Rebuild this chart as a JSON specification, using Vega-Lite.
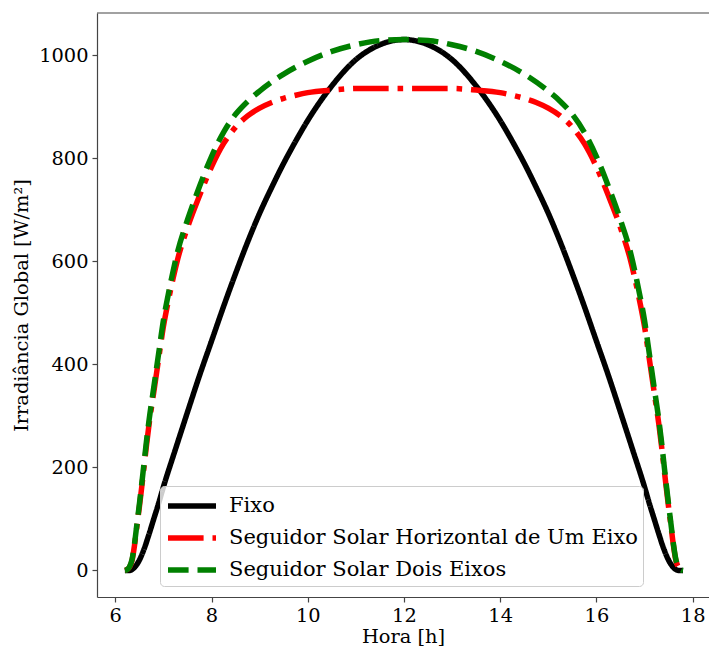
{
  "$schema": "https://vega.github.io/schema/vega-lite/v6.json",
  "width": 612,
  "height": 584,
  "autosize": {"type": "none"},
  "padding": {"left": 97, "top": 13, "right": 0, "bottom": 50},
  "background": "white",
  "data": {"values": [
    {"s":"Fixo","t":6.2,"v":0},{"s":"Fixo","t":6.3,"v":0},{"s":"Fixo","t":6.35,"v":2},{"s":"Fixo","t":6.4,"v":6},{"s":"Fixo","t":6.5,"v":20},{"s":"Fixo","t":6.6,"v":42},{"s":"Fixo","t":6.7,"v":70},{"s":"Fixo","t":6.8,"v":100},{"s":"Fixo","t":6.9,"v":130},{"s":"Fixo","t":7.0,"v":162},{"s":"Fixo","t":7.25,"v":235},{"s":"Fixo","t":7.5,"v":307},{"s":"Fixo","t":7.75,"v":378},{"s":"Fixo","t":8.0,"v":445},{"s":"Fixo","t":8.25,"v":512},{"s":"Fixo","t":8.5,"v":576},{"s":"Fixo","t":8.75,"v":637},{"s":"Fixo","t":9.0,"v":693},{"s":"Fixo","t":9.25,"v":743},{"s":"Fixo","t":9.5,"v":790},{"s":"Fixo","t":9.75,"v":833},{"s":"Fixo","t":10.0,"v":873},{"s":"Fixo","t":10.5,"v":940},{"s":"Fixo","t":11.0,"v":991},{"s":"Fixo","t":11.5,"v":1020},{"s":"Fixo","t":12.0,"v":1030},
    {"s":"Fixo","t":12.5,"v":1020},{"s":"Fixo","t":13.0,"v":991},{"s":"Fixo","t":13.5,"v":940},{"s":"Fixo","t":14.0,"v":873},{"s":"Fixo","t":14.25,"v":833},{"s":"Fixo","t":14.5,"v":790},{"s":"Fixo","t":14.75,"v":743},{"s":"Fixo","t":15.0,"v":693},{"s":"Fixo","t":15.25,"v":637},{"s":"Fixo","t":15.5,"v":576},{"s":"Fixo","t":15.75,"v":512},{"s":"Fixo","t":16.0,"v":445},{"s":"Fixo","t":16.25,"v":378},{"s":"Fixo","t":16.5,"v":307},{"s":"Fixo","t":16.75,"v":235},{"s":"Fixo","t":17.0,"v":162},{"s":"Fixo","t":17.1,"v":130},{"s":"Fixo","t":17.2,"v":100},{"s":"Fixo","t":17.3,"v":70},{"s":"Fixo","t":17.4,"v":42},{"s":"Fixo","t":17.5,"v":20},{"s":"Fixo","t":17.6,"v":6},{"s":"Fixo","t":17.65,"v":2},{"s":"Fixo","t":17.7,"v":0},{"s":"Fixo","t":17.8,"v":0},
    {"s":"Seguidor Solar Horizontal de Um Eixo","t":6.2,"v":0},{"s":"Seguidor Solar Horizontal de Um Eixo","t":6.25,"v":2},{"s":"Seguidor Solar Horizontal de Um Eixo","t":6.3,"v":7},{"s":"Seguidor Solar Horizontal de Um Eixo","t":6.35,"v":20},{"s":"Seguidor Solar Horizontal de Um Eixo","t":6.4,"v":49},{"s":"Seguidor Solar Horizontal de Um Eixo","t":6.45,"v":86},{"s":"Seguidor Solar Horizontal de Um Eixo","t":6.5,"v":123},{"s":"Seguidor Solar Horizontal de Um Eixo","t":6.55,"v":162},{"s":"Seguidor Solar Horizontal de Um Eixo","t":6.6,"v":203},{"s":"Seguidor Solar Horizontal de Um Eixo","t":6.65,"v":244},{"s":"Seguidor Solar Horizontal de Um Eixo","t":6.7,"v":282},{"s":"Seguidor Solar Horizontal de Um Eixo","t":6.8,"v":346},{"s":"Seguidor Solar Horizontal de Um Eixo","t":6.9,"v":410},{"s":"Seguidor Solar Horizontal de Um Eixo","t":7.0,"v":473},{"s":"Seguidor Solar Horizontal de Um Eixo","t":7.1,"v":522},{"s":"Seguidor Solar Horizontal de Um Eixo","t":7.2,"v":566},{"s":"Seguidor Solar Horizontal de Um Eixo","t":7.3,"v":605},{"s":"Seguidor Solar Horizontal de Um Eixo","t":7.5,"v":665},{"s":"Seguidor Solar Horizontal de Um Eixo","t":7.75,"v":727},{"s":"Seguidor Solar Horizontal de Um Eixo","t":8.0,"v":783},{"s":"Seguidor Solar Horizontal de Um Eixo","t":8.25,"v":828},{"s":"Seguidor Solar Horizontal de Um Eixo","t":8.5,"v":860},{"s":"Seguidor Solar Horizontal de Um Eixo","t":8.75,"v":882},{"s":"Seguidor Solar Horizontal de Um Eixo","t":9.0,"v":897},{"s":"Seguidor Solar Horizontal de Um Eixo","t":9.25,"v":908},{"s":"Seguidor Solar Horizontal de Um Eixo","t":9.5,"v":916},{"s":"Seguidor Solar Horizontal de Um Eixo","t":9.75,"v":922},{"s":"Seguidor Solar Horizontal de Um Eixo","t":10.0,"v":927},{"s":"Seguidor Solar Horizontal de Um Eixo","t":10.5,"v":932},{"s":"Seguidor Solar Horizontal de Um Eixo","t":11.0,"v":935},{"s":"Seguidor Solar Horizontal de Um Eixo","t":11.5,"v":935},{"s":"Seguidor Solar Horizontal de Um Eixo","t":12.0,"v":935},
    {"s":"Seguidor Solar Horizontal de Um Eixo","t":12.5,"v":935},{"s":"Seguidor Solar Horizontal de Um Eixo","t":13.0,"v":935},{"s":"Seguidor Solar Horizontal de Um Eixo","t":13.5,"v":932},{"s":"Seguidor Solar Horizontal de Um Eixo","t":14.0,"v":927},{"s":"Seguidor Solar Horizontal de Um Eixo","t":14.25,"v":922},{"s":"Seguidor Solar Horizontal de Um Eixo","t":14.5,"v":916},{"s":"Seguidor Solar Horizontal de Um Eixo","t":14.75,"v":908},{"s":"Seguidor Solar Horizontal de Um Eixo","t":15.0,"v":897},{"s":"Seguidor Solar Horizontal de Um Eixo","t":15.25,"v":882},{"s":"Seguidor Solar Horizontal de Um Eixo","t":15.5,"v":860},{"s":"Seguidor Solar Horizontal de Um Eixo","t":15.75,"v":828},{"s":"Seguidor Solar Horizontal de Um Eixo","t":16.0,"v":783},{"s":"Seguidor Solar Horizontal de Um Eixo","t":16.25,"v":727},{"s":"Seguidor Solar Horizontal de Um Eixo","t":16.5,"v":665},{"s":"Seguidor Solar Horizontal de Um Eixo","t":16.7,"v":605},{"s":"Seguidor Solar Horizontal de Um Eixo","t":16.8,"v":566},{"s":"Seguidor Solar Horizontal de Um Eixo","t":16.9,"v":522},{"s":"Seguidor Solar Horizontal de Um Eixo","t":17.0,"v":473},{"s":"Seguidor Solar Horizontal de Um Eixo","t":17.1,"v":410},{"s":"Seguidor Solar Horizontal de Um Eixo","t":17.2,"v":346},{"s":"Seguidor Solar Horizontal de Um Eixo","t":17.3,"v":282},{"s":"Seguidor Solar Horizontal de Um Eixo","t":17.35,"v":244},{"s":"Seguidor Solar Horizontal de Um Eixo","t":17.4,"v":203},{"s":"Seguidor Solar Horizontal de Um Eixo","t":17.45,"v":162},{"s":"Seguidor Solar Horizontal de Um Eixo","t":17.5,"v":123},{"s":"Seguidor Solar Horizontal de Um Eixo","t":17.55,"v":86},{"s":"Seguidor Solar Horizontal de Um Eixo","t":17.6,"v":49},{"s":"Seguidor Solar Horizontal de Um Eixo","t":17.65,"v":20},{"s":"Seguidor Solar Horizontal de Um Eixo","t":17.7,"v":7},{"s":"Seguidor Solar Horizontal de Um Eixo","t":17.75,"v":2},{"s":"Seguidor Solar Horizontal de Um Eixo","t":17.8,"v":0},
    {"s":"Seguidor Solar Dois Eixos","t":6.2,"v":0},{"s":"Seguidor Solar Dois Eixos","t":6.25,"v":2},{"s":"Seguidor Solar Dois Eixos","t":6.3,"v":8},{"s":"Seguidor Solar Dois Eixos","t":6.35,"v":22},{"s":"Seguidor Solar Dois Eixos","t":6.4,"v":52},{"s":"Seguidor Solar Dois Eixos","t":6.45,"v":90},{"s":"Seguidor Solar Dois Eixos","t":6.5,"v":128},{"s":"Seguidor Solar Dois Eixos","t":6.55,"v":168},{"s":"Seguidor Solar Dois Eixos","t":6.6,"v":210},{"s":"Seguidor Solar Dois Eixos","t":6.65,"v":252},{"s":"Seguidor Solar Dois Eixos","t":6.7,"v":290},{"s":"Seguidor Solar Dois Eixos","t":6.8,"v":355},{"s":"Seguidor Solar Dois Eixos","t":6.9,"v":420},{"s":"Seguidor Solar Dois Eixos","t":7.0,"v":485},{"s":"Seguidor Solar Dois Eixos","t":7.1,"v":535},{"s":"Seguidor Solar Dois Eixos","t":7.2,"v":580},{"s":"Seguidor Solar Dois Eixos","t":7.3,"v":620},{"s":"Seguidor Solar Dois Eixos","t":7.5,"v":680},{"s":"Seguidor Solar Dois Eixos","t":7.75,"v":745},{"s":"Seguidor Solar Dois Eixos","t":8.0,"v":803},{"s":"Seguidor Solar Dois Eixos","t":8.25,"v":850},{"s":"Seguidor Solar Dois Eixos","t":8.5,"v":885},{"s":"Seguidor Solar Dois Eixos","t":8.75,"v":910},{"s":"Seguidor Solar Dois Eixos","t":9.0,"v":930},{"s":"Seguidor Solar Dois Eixos","t":9.5,"v":963},{"s":"Seguidor Solar Dois Eixos","t":10.0,"v":988},{"s":"Seguidor Solar Dois Eixos","t":10.5,"v":1007},{"s":"Seguidor Solar Dois Eixos","t":11.0,"v":1020},{"s":"Seguidor Solar Dois Eixos","t":11.5,"v":1028},{"s":"Seguidor Solar Dois Eixos","t":12.0,"v":1030},
    {"s":"Seguidor Solar Dois Eixos","t":12.5,"v":1028},{"s":"Seguidor Solar Dois Eixos","t":13.0,"v":1020},{"s":"Seguidor Solar Dois Eixos","t":13.5,"v":1007},{"s":"Seguidor Solar Dois Eixos","t":14.0,"v":988},{"s":"Seguidor Solar Dois Eixos","t":14.5,"v":963},{"s":"Seguidor Solar Dois Eixos","t":15.0,"v":930},{"s":"Seguidor Solar Dois Eixos","t":15.25,"v":910},{"s":"Seguidor Solar Dois Eixos","t":15.5,"v":885},{"s":"Seguidor Solar Dois Eixos","t":15.75,"v":850},{"s":"Seguidor Solar Dois Eixos","t":16.0,"v":803},{"s":"Seguidor Solar Dois Eixos","t":16.25,"v":745},{"s":"Seguidor Solar Dois Eixos","t":16.5,"v":680},{"s":"Seguidor Solar Dois Eixos","t":16.7,"v":620},{"s":"Seguidor Solar Dois Eixos","t":16.8,"v":580},{"s":"Seguidor Solar Dois Eixos","t":16.9,"v":535},{"s":"Seguidor Solar Dois Eixos","t":17.0,"v":485},{"s":"Seguidor Solar Dois Eixos","t":17.1,"v":420},{"s":"Seguidor Solar Dois Eixos","t":17.2,"v":355},{"s":"Seguidor Solar Dois Eixos","t":17.3,"v":290},{"s":"Seguidor Solar Dois Eixos","t":17.35,"v":252},{"s":"Seguidor Solar Dois Eixos","t":17.4,"v":210},{"s":"Seguidor Solar Dois Eixos","t":17.45,"v":168},{"s":"Seguidor Solar Dois Eixos","t":17.5,"v":128},{"s":"Seguidor Solar Dois Eixos","t":17.55,"v":90},{"s":"Seguidor Solar Dois Eixos","t":17.6,"v":52},{"s":"Seguidor Solar Dois Eixos","t":17.65,"v":22},{"s":"Seguidor Solar Dois Eixos","t":17.7,"v":8},{"s":"Seguidor Solar Dois Eixos","t":17.75,"v":2},{"s":"Seguidor Solar Dois Eixos","t":17.8,"v":0}
  ]},
  "layer": [
    {
      "transform": [{"filter": "datum.s === 'Fixo'"}],
      "mark": {"type": "line", "strokeWidth": 5.5, "strokeCap": "butt", "strokeJoin": "round", "interpolate": "monotone"},
      "encoding": {
        "x": {"field": "t", "type": "quantitative", "scale": {"domain": [5.62, 18.34], "nice": false, "zero": false}, "axis": {"values": [6, 8, 10, 12, 14, 16, 18], "title": "Hora [h]"}},
        "y": {"field": "v", "type": "quantitative", "scale": {"domain": [-51.5, 1081.5], "nice": false, "zero": false}, "axis": {"values": [0, 200, 400, 600, 800, 1000], "format": "d", "title": "Irradiância Global [W/m²]"}},
        "color": {"field": "s", "type": "nominal", "scale": {"domain": ["Fixo", "Seguidor Solar Horizontal de Um Eixo", "Seguidor Solar Dois Eixos"], "range": ["#000000", "#ff0000", "#008000"]}, "legend": {"title": null}},
        "strokeDash": {"field": "s", "type": "nominal", "scale": {"domain": ["Fixo", "Seguidor Solar Horizontal de Um Eixo", "Seguidor Solar Dois Eixos"], "range": [[1, 0], [35.6, 8.9, 5.6, 8.9], [20.6, 8.9]]}, "legend": {"title": null}}
      }
    },
    {
      "transform": [{"filter": "datum.s === 'Seguidor Solar Horizontal de Um Eixo'"}],
      "mark": {"type": "line", "strokeWidth": 5.5, "strokeCap": "butt", "strokeJoin": "round", "interpolate": "monotone"},
      "encoding": {
        "x": {"field": "t", "type": "quantitative"},
        "y": {"field": "v", "type": "quantitative"},
        "color": {"field": "s", "type": "nominal"},
        "strokeDash": {"field": "s", "type": "nominal"}
      }
    },
    {
      "transform": [{"filter": "datum.s === 'Seguidor Solar Dois Eixos'"}],
      "mark": {"type": "line", "strokeWidth": 5.5, "strokeCap": "butt", "strokeJoin": "round", "interpolate": "monotone"},
      "encoding": {
        "x": {"field": "t", "type": "quantitative"},
        "y": {"field": "v", "type": "quantitative"},
        "color": {"field": "s", "type": "nominal"},
        "strokeDash": {"field": "s", "type": "nominal"}
      }
    },
    {
      "data": {"values": [{"top": 1081.5}]},
      "mark": {"type": "rule", "color": "#444444", "strokeWidth": 1.2},
      "encoding": {"y": {"field": "top", "type": "quantitative"}}
    }
  ],
  "config": {
    "font": "DejaVu Serif",
    "view": {"stroke": null},
    "axis": {
      "grid": false,
      "labelFont": "DejaVu Serif",
      "labelFontSize": 19.4,
      "labelColor": "#000000",
      "titleFont": "DejaVu Serif",
      "titleFontSize": 19.4,
      "titleFontWeight": "normal",
      "titleColor": "#000000",
      "domainColor": "#444444",
      "domainWidth": 1.2,
      "tickColor": "#444444",
      "tickWidth": 1.2,
      "tickSize": 5,
      "labelPadding": 4
    },
    "axisX": {"titlePadding": 3},
    "axisY": {"titlePadding": 7},
    "legend": {
      "orient": "none",
      "legendX": 63,
      "legendY": 473,
      "padding": 5,
      "fillColor": "rgba(255,255,255,0.8)",
      "strokeColor": "#cccccc",
      "cornerRadius": 4,
      "labelFont": "DejaVu Serif",
      "labelFontSize": 21,
      "labelColor": "#000000",
      "labelLimit": 600,
      "symbolType": "M-1,0H3",
      "symbolSize": 576,
      "symbolStrokeWidth": 5.5,
      "symbolFillColor": "transparent",
      "labelOffset": 34,
      "rowPadding": 6
    }
  }
}
